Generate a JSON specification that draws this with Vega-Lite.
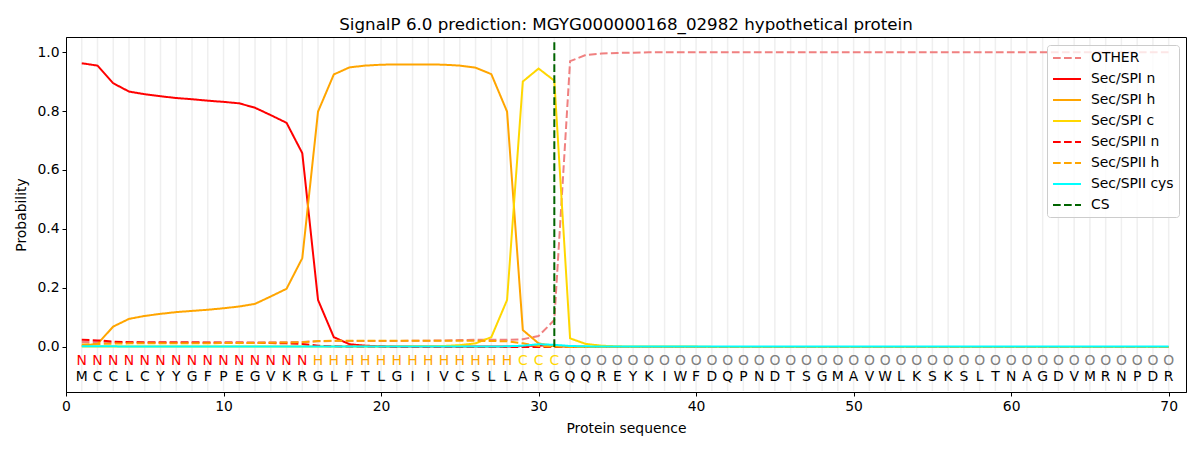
{
  "$schema": "https://vega.github.io/schema/vega-lite/v6.json",
  "description": "SignalP 6.0 per-residue probabilities.",
  "autosize": {"type": "none"},
  "padding": {"left": 66, "top": 37, "right": 14, "bottom": 58},
  "width": 1120,
  "height": 355,
  "title": {
    "text": "SignalP 6.0 prediction: MGYG000000168_02982 hypothetical protein",
    "font": "DejaVu Sans",
    "fontSize": 16.7,
    "fontWeight": "normal",
    "color": "black",
    "offset": 3
  },
  "config": {
    "font": "DejaVu Sans",
    "view": {"stroke": "black", "strokeWidth": 1},
    "axis": {
      "labelFont": "DejaVu Sans",
      "titleFont": "DejaVu Sans",
      "labelFontSize": 13.9,
      "titleFontSize": 13.9,
      "titleFontWeight": "normal",
      "labelColor": "black",
      "titleColor": "black",
      "domainColor": "black",
      "tickColor": "black",
      "tickSize": 4,
      "labelPadding": 3,
      "grid": false
    },
    "axisX": {"titlePadding": 9},
    "axisY": {"titlePadding": 8},
    "legend": {
      "orient": "none",
      "legendX": 981,
      "legendY": 8,
      "padding": 5,
      "fillColor": "rgba(255,255,255,0.8)",
      "strokeColor": "#cccccc",
      "cornerRadius": 3,
      "labelFont": "DejaVu Sans",
      "labelFontSize": 13.9,
      "labelColor": "black",
      "symbolType": "M-1,0H3",
      "symbolSize": 196,
      "symbolStrokeWidth": 2,
      "rowPadding": 6,
      "labelOffset": 23
    }
  },
  "datasets": {
    "seq": [
      {"pos": 1, "aa": "M", "lab": "N", "OTHER": 0.017, "Sec/SPI n": 0.962, "Sec/SPI h": 0.004, "Sec/SPI c": 0.001, "Sec/SPII n": 0.024, "Sec/SPII h": 0.008, "Sec/SPII cys": 0.002},
      {"pos": 2, "aa": "C", "lab": "N", "OTHER": 0.017, "Sec/SPI n": 0.954, "Sec/SPI h": 0.010, "Sec/SPI c": 0.001, "Sec/SPII n": 0.022, "Sec/SPII h": 0.010, "Sec/SPII cys": 0.002},
      {"pos": 3, "aa": "C", "lab": "N", "OTHER": 0.016, "Sec/SPI n": 0.894, "Sec/SPI h": 0.069, "Sec/SPI c": 0.001, "Sec/SPII n": 0.018, "Sec/SPII h": 0.011, "Sec/SPII cys": 0.002},
      {"pos": 4, "aa": "L", "lab": "N", "OTHER": 0.016, "Sec/SPI n": 0.866, "Sec/SPI h": 0.095, "Sec/SPI c": 0.001, "Sec/SPII n": 0.016, "Sec/SPII h": 0.012, "Sec/SPII cys": 0.001},
      {"pos": 5, "aa": "C", "lab": "N", "OTHER": 0.016, "Sec/SPI n": 0.857, "Sec/SPI h": 0.105, "Sec/SPI c": 0.001, "Sec/SPII n": 0.015, "Sec/SPII h": 0.012, "Sec/SPII cys": 0.001},
      {"pos": 6, "aa": "Y", "lab": "N", "OTHER": 0.016, "Sec/SPI n": 0.850, "Sec/SPI h": 0.112, "Sec/SPI c": 0.001, "Sec/SPII n": 0.015, "Sec/SPII h": 0.012, "Sec/SPII cys": 0.001},
      {"pos": 7, "aa": "Y", "lab": "N", "OTHER": 0.016, "Sec/SPI n": 0.844, "Sec/SPI h": 0.118, "Sec/SPI c": 0.001, "Sec/SPII n": 0.015, "Sec/SPII h": 0.012, "Sec/SPII cys": 0.001},
      {"pos": 8, "aa": "G", "lab": "N", "OTHER": 0.016, "Sec/SPI n": 0.840, "Sec/SPI h": 0.122, "Sec/SPI c": 0.001, "Sec/SPII n": 0.015, "Sec/SPII h": 0.012, "Sec/SPII cys": 0.001},
      {"pos": 9, "aa": "F", "lab": "N", "OTHER": 0.016, "Sec/SPI n": 0.835, "Sec/SPI h": 0.126, "Sec/SPI c": 0.001, "Sec/SPII n": 0.014, "Sec/SPII h": 0.012, "Sec/SPII cys": 0.001},
      {"pos": 10, "aa": "P", "lab": "N", "OTHER": 0.016, "Sec/SPI n": 0.831, "Sec/SPI h": 0.131, "Sec/SPI c": 0.001, "Sec/SPII n": 0.014, "Sec/SPII h": 0.013, "Sec/SPII cys": 0.001},
      {"pos": 11, "aa": "E", "lab": "N", "OTHER": 0.016, "Sec/SPI n": 0.826, "Sec/SPI h": 0.137, "Sec/SPI c": 0.001, "Sec/SPII n": 0.014, "Sec/SPII h": 0.013, "Sec/SPII cys": 0.001},
      {"pos": 12, "aa": "G", "lab": "N", "OTHER": 0.016, "Sec/SPI n": 0.811, "Sec/SPI h": 0.146, "Sec/SPI c": 0.001, "Sec/SPII n": 0.013, "Sec/SPII h": 0.013, "Sec/SPII cys": 0.001},
      {"pos": 13, "aa": "V", "lab": "N", "OTHER": 0.016, "Sec/SPI n": 0.786, "Sec/SPI h": 0.171, "Sec/SPI c": 0.001, "Sec/SPII n": 0.013, "Sec/SPII h": 0.014, "Sec/SPII cys": 0.001},
      {"pos": 14, "aa": "K", "lab": "N", "OTHER": 0.016, "Sec/SPI n": 0.760, "Sec/SPI h": 0.197, "Sec/SPI c": 0.001, "Sec/SPII n": 0.012, "Sec/SPII h": 0.015, "Sec/SPII cys": 0.001},
      {"pos": 15, "aa": "R", "lab": "N", "OTHER": 0.017, "Sec/SPI n": 0.657, "Sec/SPI h": 0.301, "Sec/SPI c": 0.001, "Sec/SPII n": 0.010, "Sec/SPII h": 0.016, "Sec/SPII cys": 0.001},
      {"pos": 16, "aa": "G", "lab": "H", "OTHER": 0.019, "Sec/SPI n": 0.159, "Sec/SPI h": 0.798, "Sec/SPI c": 0.001, "Sec/SPII n": 0.004, "Sec/SPII h": 0.020, "Sec/SPII cys": 0.001},
      {"pos": 17, "aa": "L", "lab": "H", "OTHER": 0.020, "Sec/SPI n": 0.033, "Sec/SPI h": 0.924, "Sec/SPI c": 0.001, "Sec/SPII n": 0.002, "Sec/SPII h": 0.021, "Sec/SPII cys": 0.001},
      {"pos": 18, "aa": "F", "lab": "H", "OTHER": 0.020, "Sec/SPI n": 0.009, "Sec/SPI h": 0.948, "Sec/SPI c": 0.001, "Sec/SPII n": 0.001, "Sec/SPII h": 0.021, "Sec/SPII cys": 0.001},
      {"pos": 19, "aa": "T", "lab": "H", "OTHER": 0.020, "Sec/SPI n": 0.004, "Sec/SPI h": 0.954, "Sec/SPI c": 0.001, "Sec/SPII n": 0.001, "Sec/SPII h": 0.021, "Sec/SPII cys": 0.001},
      {"pos": 20, "aa": "L", "lab": "H", "OTHER": 0.020, "Sec/SPI n": 0.002, "Sec/SPI h": 0.957, "Sec/SPI c": 0.001, "Sec/SPII n": 0.001, "Sec/SPII h": 0.021, "Sec/SPII cys": 0.001},
      {"pos": 21, "aa": "G", "lab": "H", "OTHER": 0.020, "Sec/SPI n": 0.001, "Sec/SPI h": 0.958, "Sec/SPI c": 0.001, "Sec/SPII n": 0.000, "Sec/SPII h": 0.021, "Sec/SPII cys": 0.001},
      {"pos": 22, "aa": "I", "lab": "H", "OTHER": 0.021, "Sec/SPI n": 0.001, "Sec/SPI h": 0.958, "Sec/SPI c": 0.002, "Sec/SPII n": 0.000, "Sec/SPII h": 0.021, "Sec/SPII cys": 0.001},
      {"pos": 23, "aa": "I", "lab": "H", "OTHER": 0.021, "Sec/SPI n": 0.001, "Sec/SPI h": 0.958, "Sec/SPI c": 0.002, "Sec/SPII n": 0.000, "Sec/SPII h": 0.021, "Sec/SPII cys": 0.001},
      {"pos": 24, "aa": "V", "lab": "H", "OTHER": 0.022, "Sec/SPI n": 0.001, "Sec/SPI h": 0.957, "Sec/SPI c": 0.003, "Sec/SPII n": 0.000, "Sec/SPII h": 0.021, "Sec/SPII cys": 0.001},
      {"pos": 25, "aa": "C", "lab": "H", "OTHER": 0.023, "Sec/SPI n": 0.001, "Sec/SPI h": 0.954, "Sec/SPI c": 0.006, "Sec/SPII n": 0.000, "Sec/SPII h": 0.021, "Sec/SPII cys": 0.001},
      {"pos": 26, "aa": "S", "lab": "H", "OTHER": 0.024, "Sec/SPI n": 0.001, "Sec/SPI h": 0.947, "Sec/SPI c": 0.012, "Sec/SPII n": 0.000, "Sec/SPII h": 0.021, "Sec/SPII cys": 0.001},
      {"pos": 27, "aa": "L", "lab": "H", "OTHER": 0.024, "Sec/SPI n": 0.001, "Sec/SPI h": 0.925, "Sec/SPI c": 0.033, "Sec/SPII n": 0.000, "Sec/SPII h": 0.020, "Sec/SPII cys": 0.001},
      {"pos": 28, "aa": "L", "lab": "H", "OTHER": 0.024, "Sec/SPI n": 0.001, "Sec/SPI h": 0.798, "Sec/SPI c": 0.159, "Sec/SPII n": 0.000, "Sec/SPII h": 0.019, "Sec/SPII cys": 0.002},
      {"pos": 29, "aa": "A", "lab": "C", "OTHER": 0.026, "Sec/SPI n": 0.003, "Sec/SPI h": 0.057, "Sec/SPI c": 0.900, "Sec/SPII n": 0.000, "Sec/SPII h": 0.012, "Sec/SPII cys": 0.004},
      {"pos": 30, "aa": "R", "lab": "C", "OTHER": 0.037, "Sec/SPI n": 0.005, "Sec/SPI h": 0.012, "Sec/SPI c": 0.944, "Sec/SPII n": 0.000, "Sec/SPII h": 0.003, "Sec/SPII cys": 0.009},
      {"pos": 31, "aa": "G", "lab": "C", "OTHER": 0.091, "Sec/SPI n": 0.003, "Sec/SPI h": 0.002, "Sec/SPI c": 0.903, "Sec/SPII n": 0.000, "Sec/SPII h": 0.001, "Sec/SPII cys": 0.007},
      {"pos": 32, "aa": "Q", "lab": "O", "OTHER": 0.969, "Sec/SPI n": 0.001, "Sec/SPI h": 0.001, "Sec/SPI c": 0.029, "Sec/SPII n": 0.000, "Sec/SPII h": 0.000, "Sec/SPII cys": 0.003},
      {"pos": 33, "aa": "Q", "lab": "O", "OTHER": 0.990, "Sec/SPI n": 0.000, "Sec/SPI h": 0.000, "Sec/SPI c": 0.010, "Sec/SPII n": 0.000, "Sec/SPII h": 0.000, "Sec/SPII cys": 0.002},
      {"pos": 34, "aa": "R", "lab": "O", "OTHER": 0.995, "Sec/SPI n": 0.000, "Sec/SPI h": 0.000, "Sec/SPI c": 0.004, "Sec/SPII n": 0.000, "Sec/SPII h": 0.000, "Sec/SPII cys": 0.001},
      {"pos": 35, "aa": "E", "lab": "O", "OTHER": 0.997, "Sec/SPI n": 0.000, "Sec/SPI h": 0.000, "Sec/SPI c": 0.002, "Sec/SPII n": 0.000, "Sec/SPII h": 0.000, "Sec/SPII cys": 0.001},
      {"pos": 36, "aa": "Y", "lab": "O", "OTHER": 0.998, "Sec/SPI n": 0.000, "Sec/SPI h": 0.000, "Sec/SPI c": 0.001, "Sec/SPII n": 0.000, "Sec/SPII h": 0.000, "Sec/SPII cys": 0.001},
      {"pos": 37, "aa": "K", "lab": "O", "OTHER": 0.999, "Sec/SPI n": 0.000, "Sec/SPI h": 0.000, "Sec/SPI c": 0.001, "Sec/SPII n": 0.000, "Sec/SPII h": 0.000, "Sec/SPII cys": 0.001},
      {"pos": 38, "aa": "I", "lab": "O", "OTHER": 0.999, "Sec/SPI n": 0.000, "Sec/SPI h": 0.000, "Sec/SPI c": 0.001, "Sec/SPII n": 0.000, "Sec/SPII h": 0.000, "Sec/SPII cys": 0.001},
      {"pos": 39, "aa": "W", "lab": "O", "OTHER": 0.999, "Sec/SPI n": 0.000, "Sec/SPI h": 0.000, "Sec/SPI c": 0.001, "Sec/SPII n": 0.000, "Sec/SPII h": 0.000, "Sec/SPII cys": 0.001},
      {"pos": 40, "aa": "F", "lab": "O", "OTHER": 0.999, "Sec/SPI n": 0.000, "Sec/SPI h": 0.000, "Sec/SPI c": 0.001, "Sec/SPII n": 0.000, "Sec/SPII h": 0.000, "Sec/SPII cys": 0.001},
      {"pos": 41, "aa": "D", "lab": "O", "OTHER": 0.999, "Sec/SPI n": 0.000, "Sec/SPI h": 0.000, "Sec/SPI c": 0.000, "Sec/SPII n": 0.000, "Sec/SPII h": 0.000, "Sec/SPII cys": 0.001},
      {"pos": 42, "aa": "Q", "lab": "O", "OTHER": 0.999, "Sec/SPI n": 0.000, "Sec/SPI h": 0.000, "Sec/SPI c": 0.000, "Sec/SPII n": 0.000, "Sec/SPII h": 0.000, "Sec/SPII cys": 0.001},
      {"pos": 43, "aa": "P", "lab": "O", "OTHER": 0.999, "Sec/SPI n": 0.000, "Sec/SPI h": 0.000, "Sec/SPI c": 0.000, "Sec/SPII n": 0.000, "Sec/SPII h": 0.000, "Sec/SPII cys": 0.001},
      {"pos": 44, "aa": "N", "lab": "O", "OTHER": 0.999, "Sec/SPI n": 0.000, "Sec/SPI h": 0.000, "Sec/SPI c": 0.000, "Sec/SPII n": 0.000, "Sec/SPII h": 0.000, "Sec/SPII cys": 0.001},
      {"pos": 45, "aa": "D", "lab": "O", "OTHER": 0.999, "Sec/SPI n": 0.000, "Sec/SPI h": 0.000, "Sec/SPI c": 0.000, "Sec/SPII n": 0.000, "Sec/SPII h": 0.000, "Sec/SPII cys": 0.001},
      {"pos": 46, "aa": "T", "lab": "O", "OTHER": 0.999, "Sec/SPI n": 0.000, "Sec/SPI h": 0.000, "Sec/SPI c": 0.000, "Sec/SPII n": 0.000, "Sec/SPII h": 0.000, "Sec/SPII cys": 0.001},
      {"pos": 47, "aa": "S", "lab": "O", "OTHER": 0.999, "Sec/SPI n": 0.000, "Sec/SPI h": 0.000, "Sec/SPI c": 0.000, "Sec/SPII n": 0.000, "Sec/SPII h": 0.000, "Sec/SPII cys": 0.001},
      {"pos": 48, "aa": "G", "lab": "O", "OTHER": 0.999, "Sec/SPI n": 0.000, "Sec/SPI h": 0.000, "Sec/SPI c": 0.000, "Sec/SPII n": 0.000, "Sec/SPII h": 0.000, "Sec/SPII cys": 0.001},
      {"pos": 49, "aa": "M", "lab": "O", "OTHER": 0.999, "Sec/SPI n": 0.000, "Sec/SPI h": 0.000, "Sec/SPI c": 0.000, "Sec/SPII n": 0.000, "Sec/SPII h": 0.000, "Sec/SPII cys": 0.001},
      {"pos": 50, "aa": "A", "lab": "O", "OTHER": 0.999, "Sec/SPI n": 0.000, "Sec/SPI h": 0.000, "Sec/SPI c": 0.000, "Sec/SPII n": 0.000, "Sec/SPII h": 0.000, "Sec/SPII cys": 0.001},
      {"pos": 51, "aa": "V", "lab": "O", "OTHER": 0.999, "Sec/SPI n": 0.000, "Sec/SPI h": 0.000, "Sec/SPI c": 0.000, "Sec/SPII n": 0.000, "Sec/SPII h": 0.000, "Sec/SPII cys": 0.001},
      {"pos": 52, "aa": "W", "lab": "O", "OTHER": 0.999, "Sec/SPI n": 0.000, "Sec/SPI h": 0.000, "Sec/SPI c": 0.000, "Sec/SPII n": 0.000, "Sec/SPII h": 0.000, "Sec/SPII cys": 0.001},
      {"pos": 53, "aa": "L", "lab": "O", "OTHER": 0.999, "Sec/SPI n": 0.000, "Sec/SPI h": 0.000, "Sec/SPI c": 0.000, "Sec/SPII n": 0.000, "Sec/SPII h": 0.000, "Sec/SPII cys": 0.001},
      {"pos": 54, "aa": "K", "lab": "O", "OTHER": 0.999, "Sec/SPI n": 0.000, "Sec/SPI h": 0.000, "Sec/SPI c": 0.000, "Sec/SPII n": 0.000, "Sec/SPII h": 0.000, "Sec/SPII cys": 0.001},
      {"pos": 55, "aa": "S", "lab": "O", "OTHER": 0.999, "Sec/SPI n": 0.000, "Sec/SPI h": 0.000, "Sec/SPI c": 0.000, "Sec/SPII n": 0.000, "Sec/SPII h": 0.000, "Sec/SPII cys": 0.001},
      {"pos": 56, "aa": "K", "lab": "O", "OTHER": 0.999, "Sec/SPI n": 0.000, "Sec/SPI h": 0.000, "Sec/SPI c": 0.000, "Sec/SPII n": 0.000, "Sec/SPII h": 0.000, "Sec/SPII cys": 0.001},
      {"pos": 57, "aa": "S", "lab": "O", "OTHER": 0.999, "Sec/SPI n": 0.000, "Sec/SPI h": 0.000, "Sec/SPI c": 0.000, "Sec/SPII n": 0.000, "Sec/SPII h": 0.000, "Sec/SPII cys": 0.001},
      {"pos": 58, "aa": "L", "lab": "O", "OTHER": 0.999, "Sec/SPI n": 0.000, "Sec/SPI h": 0.000, "Sec/SPI c": 0.000, "Sec/SPII n": 0.000, "Sec/SPII h": 0.000, "Sec/SPII cys": 0.001},
      {"pos": 59, "aa": "T", "lab": "O", "OTHER": 0.999, "Sec/SPI n": 0.000, "Sec/SPI h": 0.000, "Sec/SPI c": 0.000, "Sec/SPII n": 0.000, "Sec/SPII h": 0.000, "Sec/SPII cys": 0.001},
      {"pos": 60, "aa": "N", "lab": "O", "OTHER": 0.999, "Sec/SPI n": 0.000, "Sec/SPI h": 0.000, "Sec/SPI c": 0.000, "Sec/SPII n": 0.000, "Sec/SPII h": 0.000, "Sec/SPII cys": 0.001},
      {"pos": 61, "aa": "A", "lab": "O", "OTHER": 0.999, "Sec/SPI n": 0.000, "Sec/SPI h": 0.000, "Sec/SPI c": 0.000, "Sec/SPII n": 0.000, "Sec/SPII h": 0.000, "Sec/SPII cys": 0.001},
      {"pos": 62, "aa": "G", "lab": "O", "OTHER": 0.999, "Sec/SPI n": 0.000, "Sec/SPI h": 0.000, "Sec/SPI c": 0.000, "Sec/SPII n": 0.000, "Sec/SPII h": 0.000, "Sec/SPII cys": 0.001},
      {"pos": 63, "aa": "D", "lab": "O", "OTHER": 0.999, "Sec/SPI n": 0.000, "Sec/SPI h": 0.000, "Sec/SPI c": 0.000, "Sec/SPII n": 0.000, "Sec/SPII h": 0.000, "Sec/SPII cys": 0.001},
      {"pos": 64, "aa": "V", "lab": "O", "OTHER": 0.999, "Sec/SPI n": 0.000, "Sec/SPI h": 0.000, "Sec/SPI c": 0.000, "Sec/SPII n": 0.000, "Sec/SPII h": 0.000, "Sec/SPII cys": 0.001},
      {"pos": 65, "aa": "M", "lab": "O", "OTHER": 0.999, "Sec/SPI n": 0.000, "Sec/SPI h": 0.000, "Sec/SPI c": 0.000, "Sec/SPII n": 0.000, "Sec/SPII h": 0.000, "Sec/SPII cys": 0.001},
      {"pos": 66, "aa": "R", "lab": "O", "OTHER": 0.999, "Sec/SPI n": 0.000, "Sec/SPI h": 0.000, "Sec/SPI c": 0.000, "Sec/SPII n": 0.000, "Sec/SPII h": 0.000, "Sec/SPII cys": 0.001},
      {"pos": 67, "aa": "N", "lab": "O", "OTHER": 0.999, "Sec/SPI n": 0.000, "Sec/SPI h": 0.000, "Sec/SPI c": 0.000, "Sec/SPII n": 0.000, "Sec/SPII h": 0.000, "Sec/SPII cys": 0.001},
      {"pos": 68, "aa": "P", "lab": "O", "OTHER": 0.999, "Sec/SPI n": 0.000, "Sec/SPI h": 0.000, "Sec/SPI c": 0.000, "Sec/SPII n": 0.000, "Sec/SPII h": 0.000, "Sec/SPII cys": 0.001},
      {"pos": 69, "aa": "D", "lab": "O", "OTHER": 0.999, "Sec/SPI n": 0.000, "Sec/SPI h": 0.000, "Sec/SPI c": 0.000, "Sec/SPII n": 0.000, "Sec/SPII h": 0.000, "Sec/SPII cys": 0.001},
      {"pos": 70, "aa": "R", "lab": "O", "OTHER": 0.999, "Sec/SPI n": 0.000, "Sec/SPI h": 0.000, "Sec/SPI c": 0.000, "Sec/SPII n": 0.000, "Sec/SPII h": 0.000, "Sec/SPII cys": 0.001}
    ],
    "cs": [
      {"pos": 31, "p": 0, "series": "CS"},
      {"pos": 31, "p": 1.035, "series": "CS"}
    ]
  },
  "layer": [
    {
      "data": {"name": "seq"},
      "mark": {"type": "rule", "color": "#efefef", "strokeWidth": 1.5},
      "encoding": {
        "x": {"field": "pos", "type": "quantitative"},
        "y": {"datum": 1.048},
        "y2": {"datum": -0.15}
      }
    },
    {
      "data": {"name": "seq"},
      "transform": [
        {"fold": ["OTHER", "Sec/SPI n", "Sec/SPI h", "Sec/SPI c", "Sec/SPII n", "Sec/SPII h", "Sec/SPII cys"], "as": ["series", "p"]}
      ],
      "mark": {"type": "line", "strokeWidth": 2},
      "encoding": {
        "x": {
          "field": "pos",
          "type": "quantitative",
          "scale": {"domain": [0, 71.1], "nice": false, "zero": false},
          "axis": {"values": [0, 10, 20, 30, 40, 50, 60, 70], "title": "Protein sequence", "labelFlush": false}
        },
        "y": {
          "field": "p",
          "type": "quantitative",
          "scale": {"domain": [-0.153, 1.051], "nice": false, "zero": false},
          "axis": {"values": [0, 0.2, 0.4, 0.6, 0.8, 1.0], "format": ".1f", "title": "Probability", "labelFlush": false}
        },
        "color": {
          "field": "series",
          "type": "nominal",
          "scale": {
            "domain": ["OTHER", "Sec/SPI n", "Sec/SPI h", "Sec/SPI c", "Sec/SPII n", "Sec/SPII h", "Sec/SPII cys", "CS"],
            "range": ["#f08080", "#ff0000", "#ffa500", "#ffd700", "#ff0000", "#ffa500", "#00ffff", "#006400"]
          },
          "legend": {"title": null}
        },
        "strokeDash": {
          "field": "series",
          "type": "nominal",
          "scale": {
            "domain": ["OTHER", "Sec/SPI n", "Sec/SPI h", "Sec/SPI c", "Sec/SPII n", "Sec/SPII h", "Sec/SPII cys", "CS"],
            "range": [[7.7, 3.3], [1, 0], [1, 0], [1, 0], [7.7, 3.3], [7.7, 3.3], [1, 0], [7.7, 3.3]]
          },
          "legend": {"title": null}
        }
      }
    },
    {
      "data": {"name": "cs"},
      "mark": {"type": "line", "strokeWidth": 2},
      "encoding": {
        "x": {"field": "pos", "type": "quantitative"},
        "y": {"field": "p", "type": "quantitative"},
        "color": {"field": "series", "type": "nominal", "legend": {"title": null}},
        "strokeDash": {"field": "series", "type": "nominal", "legend": {"title": null}}
      }
    },
    {
      "data": {"name": "seq"},
      "mark": {"type": "text", "font": "DejaVu Sans", "fontSize": 13.9, "baseline": "middle"},
      "encoding": {
        "x": {"field": "pos", "type": "quantitative"},
        "y": {"datum": -0.047},
        "text": {"field": "lab"},
        "fill": {
          "field": "lab",
          "type": "nominal",
          "scale": {"domain": ["N", "H", "C", "O"], "range": ["#ff0000", "#ffa500", "#ffd700", "#808080"]},
          "legend": null
        }
      }
    },
    {
      "data": {"name": "seq"},
      "mark": {"type": "text", "font": "DejaVu Sans", "fontSize": 13.9, "baseline": "middle", "color": "black"},
      "encoding": {
        "x": {"field": "pos", "type": "quantitative"},
        "y": {"datum": -0.102},
        "text": {"field": "aa"}
      }
    }
  ]
}
